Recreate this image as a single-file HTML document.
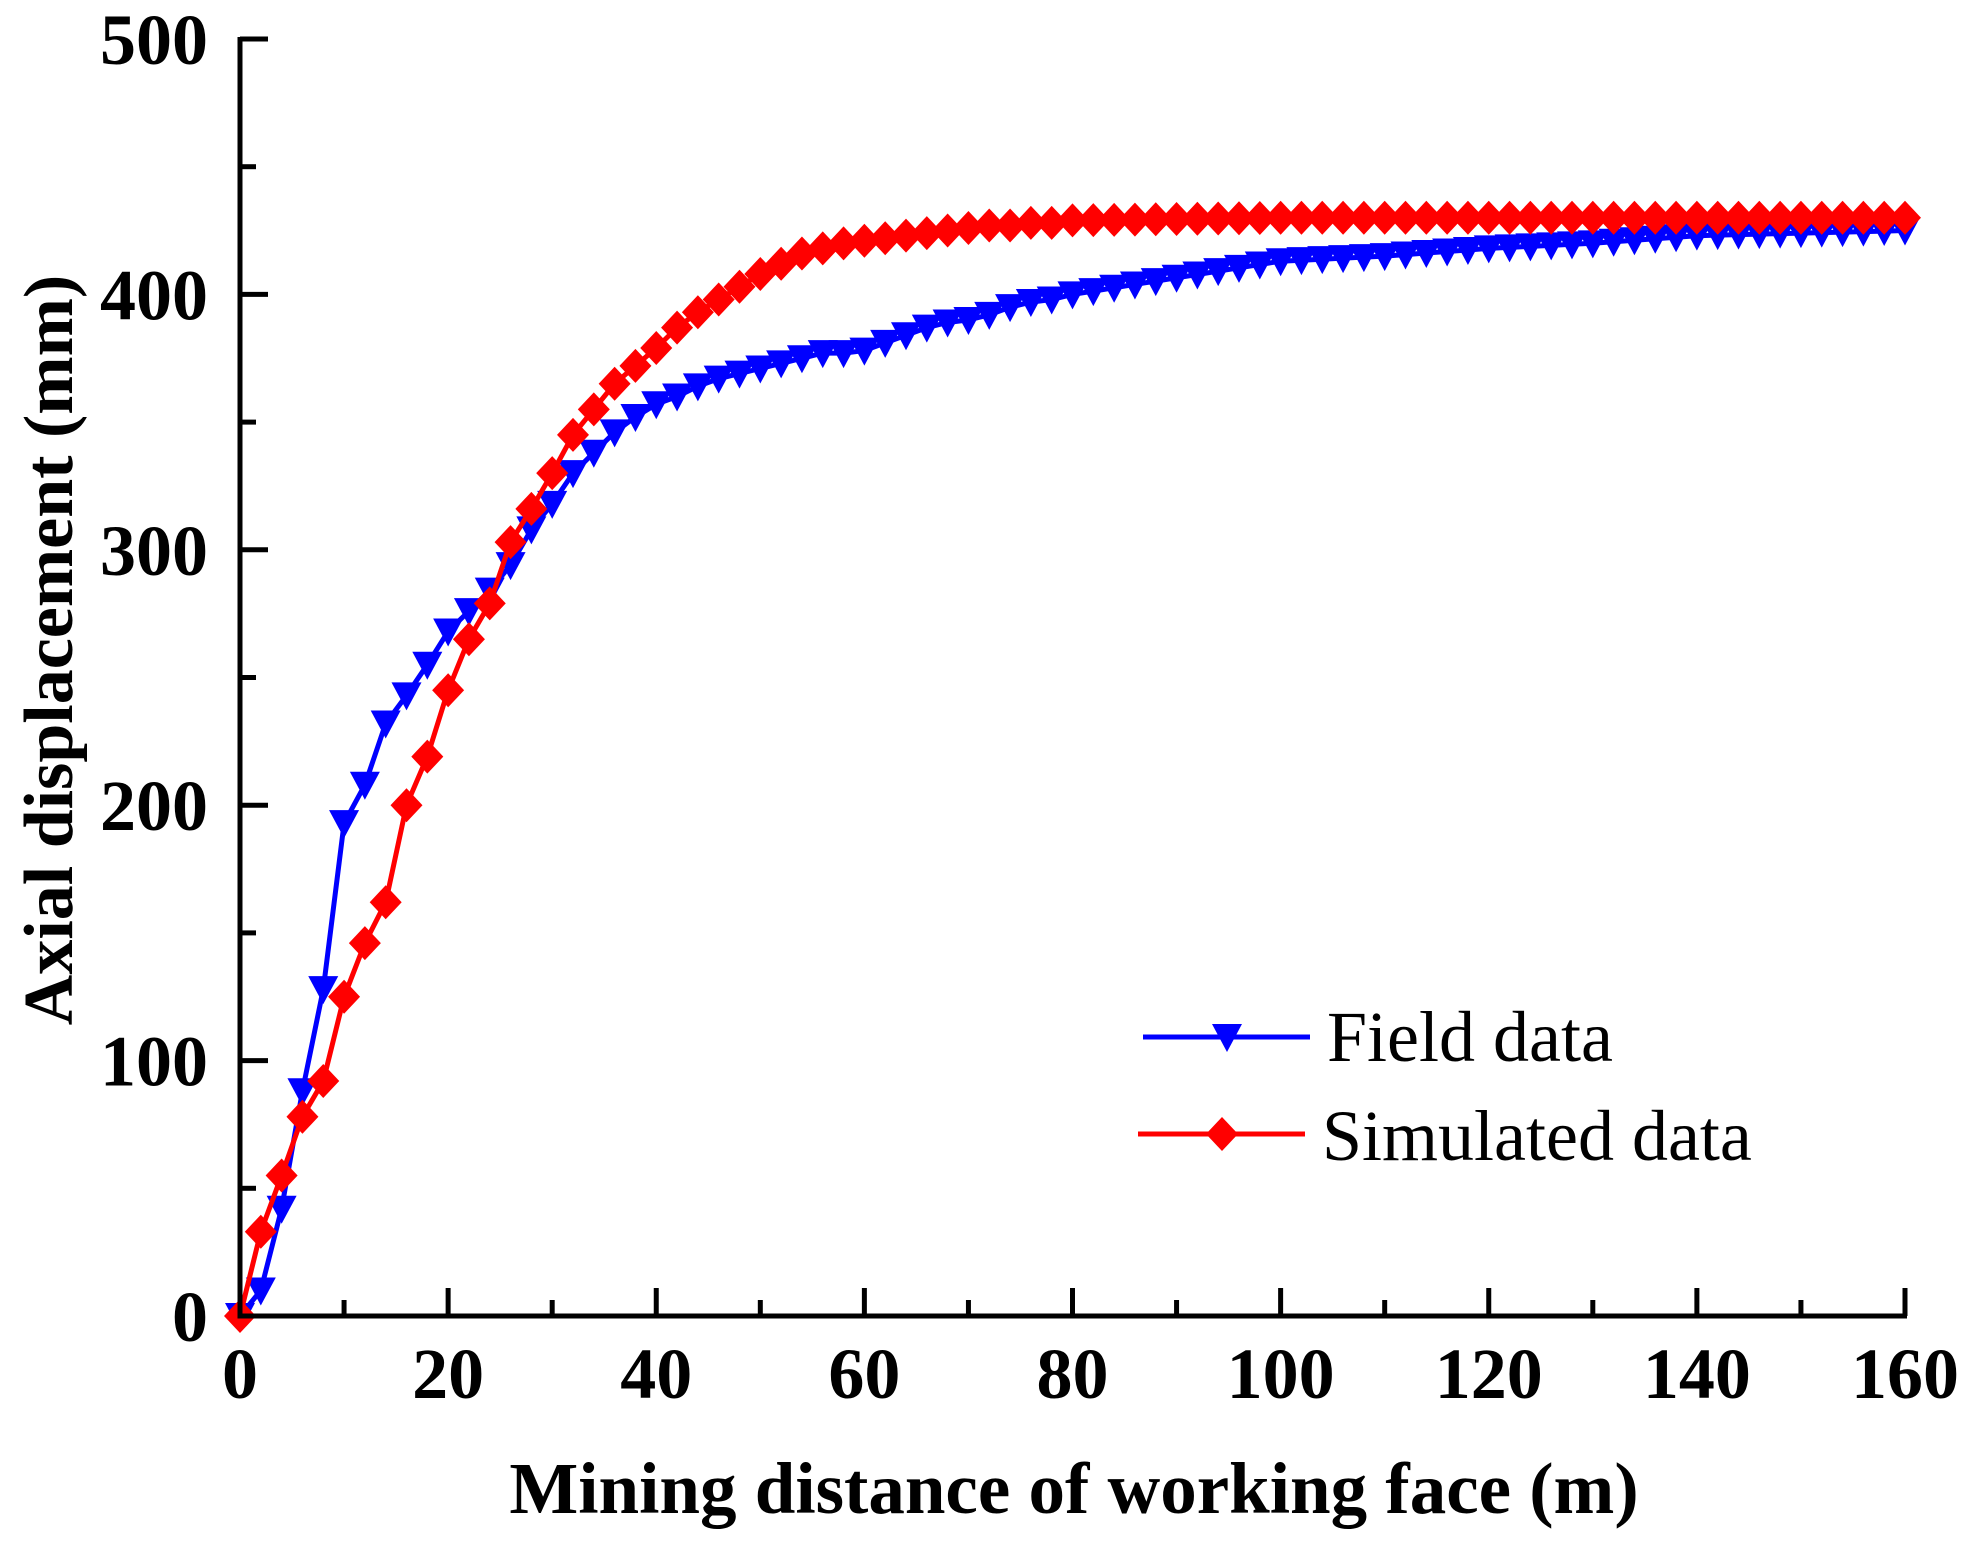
<!DOCTYPE html>
<html><head><meta charset="utf-8"><style>
html,body{margin:0;padding:0;background:#fff;}
svg{display:block;}
text{font-family:"Liberation Serif",serif;}
</style></head><body>
<svg id="s" width="1970" height="1550" viewBox="0 0 1970 1550" xmlns="http://www.w3.org/2000/svg">
<g id="plot"></g>
<g id="axes" stroke="#000" stroke-width="5" fill="none"></g>
<g font-weight="bold" font-size="72" text-anchor="end" id="yl"></g>
<g font-weight="bold" font-size="72" text-anchor="middle" id="xl"></g>
<text x="1074" y="1513" font-size="73" font-weight="bold" text-anchor="middle">Mining distance of working face (m)</text>
<text transform="translate(72,650) rotate(-90)" font-size="70" font-weight="bold" text-anchor="middle">Axial displacement (mm)</text>
<g id="leg"></g>
<text x="1327" y="1061" font-size="72">Field data</text>
<text x="1322" y="1160" font-size="72">Simulated data</text>
</svg>
<script>
var X0=240,X1=1905,Y0=1316,Y5=39;
function px(x){return X0+(X1-X0)*x/160;}
function py(v){return Y0-(Y0-Y5)*v/500;}
var ns="http://www.w3.org/2000/svg";
function el(p,t,a,txt){var e=document.createElementNS(ns,t);for(var k in a)e.setAttribute(k,a[k]);if(txt!=null)e.textContent=txt;document.getElementById(p).appendChild(e);return e;}
var F={0:0,2:10,4:42,6:88,8:128,10:193,12:208,14:232,16:243,18:255,20:268,22:276,24:284,26:294,28:308,30:318,32:330,34:338,36:346,38:352,40:357,42:360,44:364,46:367,48:369,50:371,52:373,54:375,56:377,58:377,60:378,62:381,64:384,66:387,68:389,70:390,72:392,74:395,76:397,78:398,80:400};
var S={0:0,2:33,4:55,6:78,8:92,10:125,12:146,14:162,16:200,18:219,20:245,22:265,24:279,26:303,28:316,30:330,32:345,34:355,36:365,38:372,40:379,42:387,44:393,46:398,48:403,50:408,52:412,54:416,56:418,58:420,60:421,62:422,64:423,66:424,68:425,70:426,72:427,74:427,76:428,78:428,80:429};
for(var x=82;x<=160;x+=2){
 var f;
 if(x<=100)f=400+13*(x-80)/20;else if(x<=110)f=413+2*(x-100)/10;else if(x<=120)f=415+3*(x-110)/10;else if(x<=130)f=418+2*(x-120)/10;else if(x<=140)f=420+3*(x-130)/10;else f=423+2*(x-140)/20;
 F[x]=f;S[x]=x<100?429+(x-80)/20:430;
}
function series(D,col,mk){
 var d="";for(var x=0;x<=160;x+=2){d+=(x?"L":"M")+px(x).toFixed(1)+","+py(D[x]).toFixed(1);}
 el("plot","path",{d:d,stroke:col,"stroke-width":5,fill:"none"});
 for(var x=0;x<=160;x+=2)mk("plot",px(x),py(D[x]),col);
}
function tri(p,cx,cy,c){el(p,"path",{d:"M"+(cx-15)+","+(cy-13)+"L"+(cx+15)+","+(cy-13)+"L"+cx+","+(cy+15)+"Z",fill:c});}
function dia(p,cx,cy,c){el(p,"path",{d:"M"+cx+","+(cy-17)+"L"+(cx+16)+","+cy+"L"+cx+","+(cy+17)+"L"+(cx-16)+","+cy+"Z",fill:c});}
series(F,"#0000ff",tri);
series(S,"#ff0000",dia);
el("axes","path",{d:"M"+X0+","+(Y5-2)+"L"+X0+","+Y0+"L"+(X1+2)+","+Y0});
for(var v=0;v<=500;v+=50){var y=py(v);var L=v%100==0?28:16;el("axes","path",{d:"M"+X0+","+y+"L"+(X0+L)+","+y});
 if(v%100==0)el("yl","text",{x:208,y:y+25},String(v));}
for(var x=0;x<=160;x+=10){var xx=px(x);var L=x%20==0?28:16;el("axes","path",{d:"M"+xx+","+Y0+"L"+xx+","+(Y0-L)});
 if(x%20==0)el("xl","text",{x:xx,y:1398},String(x));}
el("leg","path",{d:"M1143,1037L1310,1037",stroke:"#0000ff","stroke-width":5});
tri("leg",1227,1037,"#0000ff");
el("leg","path",{d:"M1138,1134L1305,1134",stroke:"#ff0000","stroke-width":5});
dia("leg",1222,1134,"#ff0000");
</script>
</body></html>
